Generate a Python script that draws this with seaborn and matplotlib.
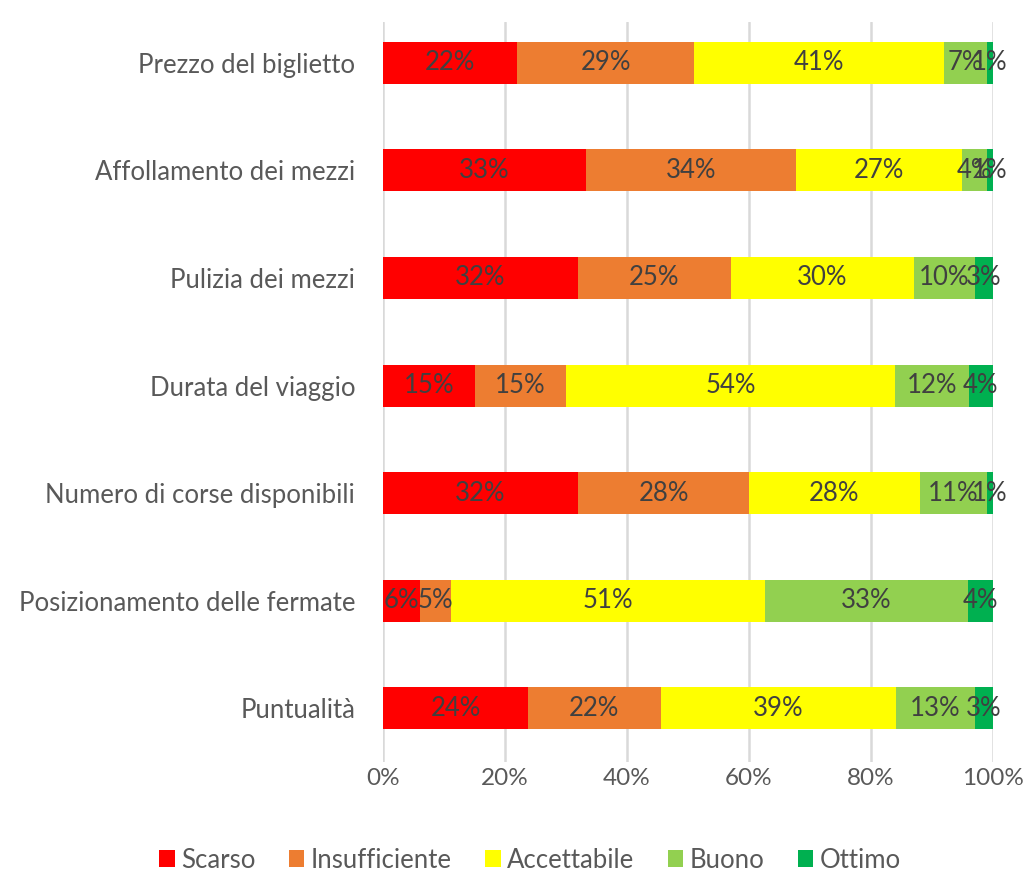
import numpy as np
import pandas as pd
import matplotlib
matplotlib.use('Agg')
import matplotlib.pyplot as plt
from matplotlib.patches import Patch
import seaborn as sns

# Data (percent of answers per rating)
categories = ['Prezzo del biglietto', 'Affollamento dei mezzi', 'Pulizia dei mezzi',
              'Durata del viaggio', 'Numero di corse disponibili',
              'Posizionamento delle fermate', 'Puntualità']
levels = ['Scarso', 'Insufficiente', 'Accettabile', 'Buono', 'Ottimo']
scarso = [22, 33, 32, 15, 32, 6, 24]
insufficiente = [29, 34, 25, 15, 28, 5, 22]
accettabile = [41, 27, 30, 54, 28, 51, 39]
buono = [7, 4, 10, 12, 11, 33, 13]
ottimo = [1, 1, 3, 4, 1, 4, 3]
colors = ['#FF0000', '#ED7D31', '#FFFF00', '#92D050', '#00B050']

df = pd.DataFrame({'Categoria': categories, 'Scarso': scarso, 'Insufficiente': insufficiente,
                   'Accettabile': accettabile, 'Buono': buono, 'Ottimo': ottimo})
vals = df[levels].to_numpy(dtype=float)
# 100% stacked: normalise each row
share = vals / vals.sum(axis=1, keepdims=True) * 100
cum = share.cumsum(axis=1)

sns.set_style('white')
plt.rcParams['font.family'] = ['Lato', 'DejaVu Sans']
text_col = '#595959'
fs = 18.5

fig = plt.figure(figsize=(10.27, 8.73), dpi=100)
ax = fig.add_axes([383 / 1027, 1 - 762 / 873, 610 / 1027, 740 / 873])

# draw cumulative bars from the full length down, so each layer shows its segment
for i in range(len(levels) - 1, -1, -1):
    sns.barplot(x=cum[:, i], y=df['Categoria'], order=categories, orient='h',
                color=colors[i], saturation=1, width=0.39, linewidth=0, ax=ax, zorder=2)

# segment labels
for r in range(len(categories)):
    left = 0
    for i in range(len(levels)):
        mid = left + share[r, i] / 2
        ax.text(mid, r, f'{int(vals[r, i])}%', ha='center', va='center',
                fontsize=fs, color='#404040', zorder=3)
        left = cum[r, i]

ax.set_xlim(0, 100)
ax.set_ylim(6.5, -0.38)
ax.set_xticks(np.arange(0, 101, 20))
ax.set_xticklabels([f'{t}%' for t in range(0, 101, 20)])
ax.xaxis.grid(True, color='#D9D9D9', linewidth=1.8, zorder=0)
ax.set_axisbelow(True)
ax.set_xlabel('')
ax.set_ylabel('')
for s in ax.spines.values():
    s.set_visible(False)
ax.tick_params(axis='both', length=0, labelsize=fs, labelcolor=text_col)
ax.tick_params(axis='x', pad=4, labelsize=17.5)
ax.tick_params(axis='y', pad=20)

handles = [Patch(facecolor=c, edgecolor='none', label=l) for c, l in zip(colors, levels)]
leg = fig.legend(handles=handles, loc='center', bbox_to_anchor=(530 / 1027, 1 - 860 / 873),
                 ncol=5, frameon=False, fontsize=fs, handlelength=0.6, handleheight=0.6,
                 handletextpad=0.25, columnspacing=1.3)
for t in leg.get_texts():
    t.set_color(text_col)

fig.savefig('out.png', dpi=100)
